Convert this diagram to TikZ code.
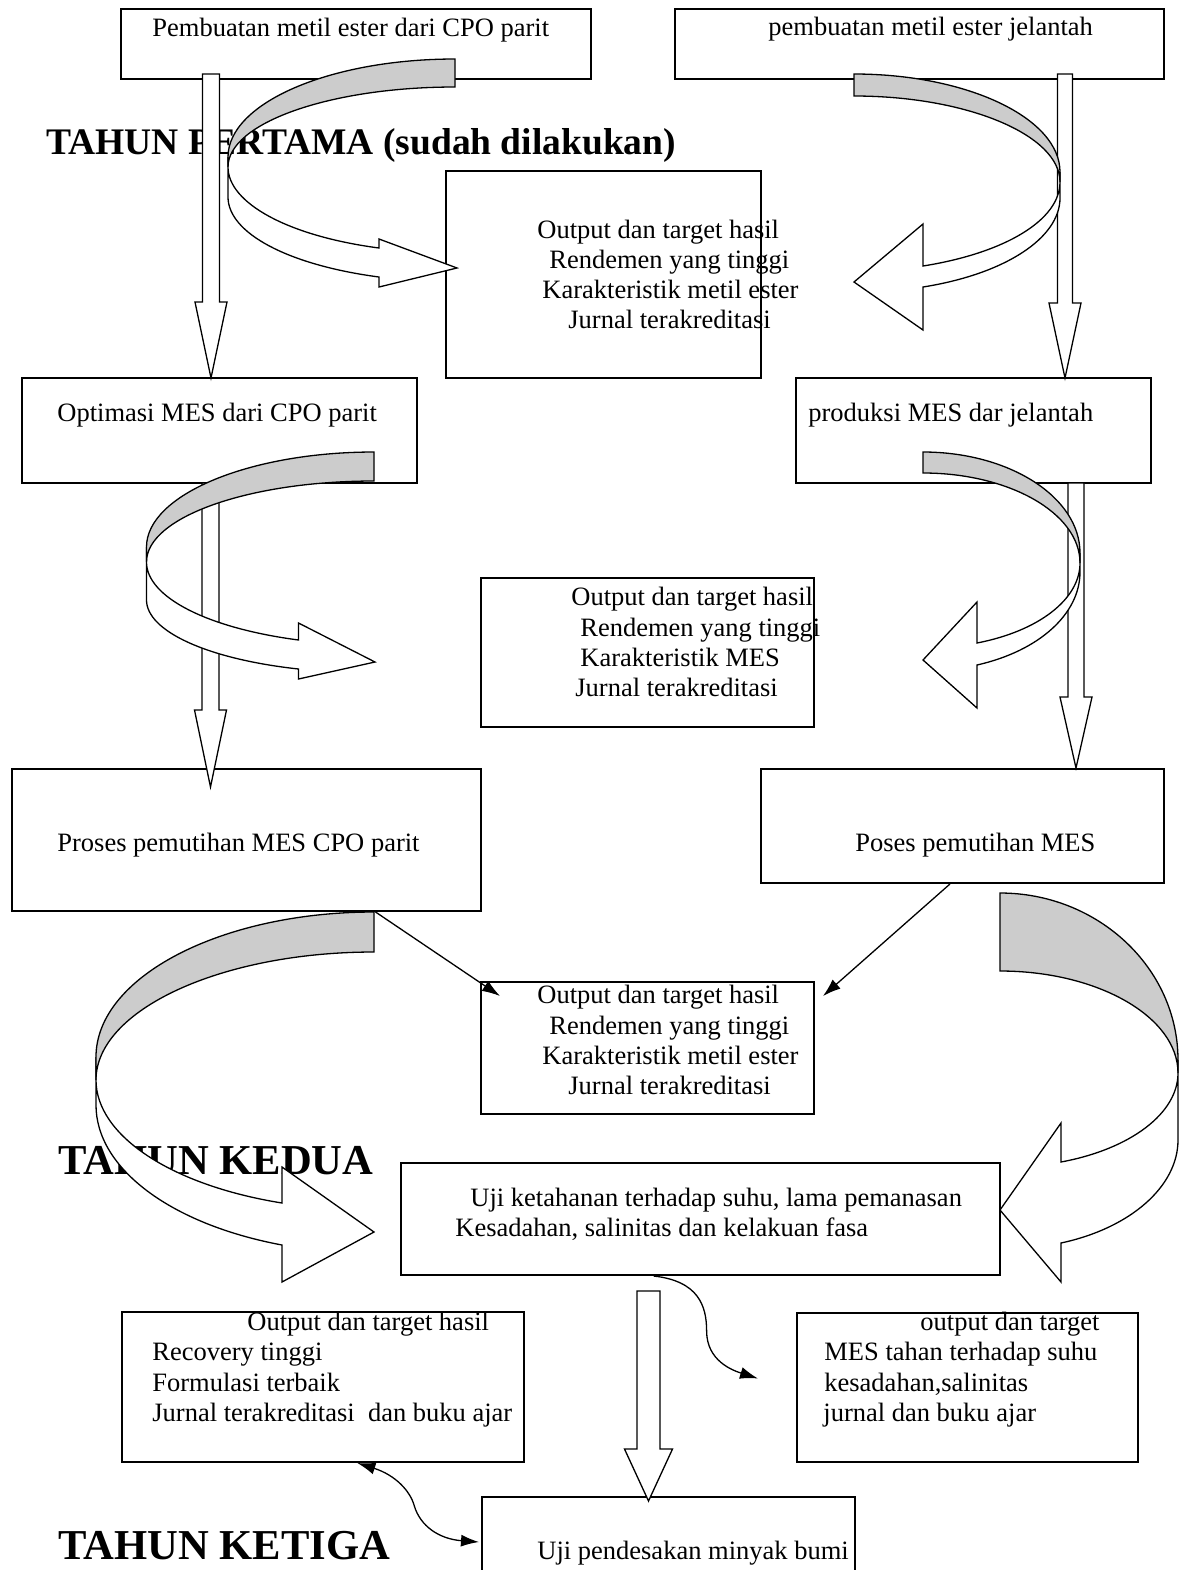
\documentclass[tikz,border=0pt]{standalone}
\usepackage{fontspec}
\setmainfont{Liberation Serif}
\usetikzlibrary{arrows.meta,positioning,calc,fit}

\tikzset{
  box/.style={draw,line width=1pt,inner sep=0pt},
  txt/.style={inner sep=0pt,anchor=base west,font=\fontsize{13.25}{15}\selectfont},
  head/.style={inner sep=0pt,anchor=base west,font=\bfseries\fontsize{21.3}{25}\selectfont},
  blockarrow/.style={draw,fill=white,line width=0.65pt,line join=miter},
  front/.style={draw,fill=white,line width=0.65pt},
  back/.style={draw,fill=gray!40,line width=0.65pt},
  link/.style={-{Latex[length=9pt,width=6pt]},line width=0.65pt},
  link2/.style={{Latex[length=9pt,width=6pt]}-{Latex[length=9pt,width=6pt]},line width=0.65pt}
}

\begin{document}
\begin{tikzpicture}[x=0.5pt,y=-0.5pt]
  \useasboundingbox (0,0) rectangle (1179,1570);

  % boxes
  \node[box,fit={(121,9) (591,79)}] (cpo) {};
  \node[box,fit={(675,9) (1164,79)}] (jel) {};
  \node[box,fit={(446,171) (761,378)}] (out1) {};
  \node[box,fit={(22,378) (417,483)}] (opt) {};
  \node[box,fit={(796,378) (1151,483)}] (prod) {};
  \node[box,fit={(481,578) (814,727)}] (out2) {};
  \node[box,fit={(12,769) (481,911)}] (proses1) {};
  \node[box,fit={(761,769) (1164,883)}] (proses2) {};
  \node[box,fit={(481,982) (814,1114)}] (out3) {};
  \node[box,fit={(401,1163) (1000,1275)}] (uji1) {};
  \node[box,fit={(122,1312) (524,1462)}] (hasil1) {};
  \node[box,fit={(797,1313) (1138,1462)}] (hasil2) {};
  \node[box,fit={(482,1497) (855,1600)}] (pendesakan) {};

  % texts
  \node[txt] (cpo-t) at (152,36) {Pembuatan metil ester dari CPO parit};
  \node[txt] (jel-t) at (768,35) {pembuatan metil ester jelantah};
  \foreach \x/\y/\t [count=\i] in {537/238/Output dan target hasil,549/268/Rendemen yang tinggi,542/298/Karakteristik metil ester,568/328/Jurnal terakreditasi}
    \node[txt] (out1-\i) at (\x,\y) {\t};
  \node[txt] (opt-t) at (57,421) {Optimasi MES dari CPO parit};
  \node[txt] (prod-t) at (808,421) {produksi MES dar jelantah};
  \foreach \x/\y/\t [count=\i] in {571/605/Output dan target hasil,580/636/Rendemen yang tinggi,580/666/Karakteristik MES,575/696/Jurnal terakreditasi}
    \node[txt] (out2-\i) at (\x,\y) {\t};
  \node[txt] (proses1-t) at (57,851) {Proses pemutihan MES CPO parit};
  \node[txt] (proses2-t) at (855,851) {Poses pemutihan MES};
  \foreach \x/\y/\t [count=\i] in {537/1003/Output dan target hasil,549/1034/Rendemen yang tinggi,542/1064/Karakteristik metil ester,568/1094/Jurnal terakreditasi}
    \node[txt] (out3-\i) at (\x,\y) {\t};
  \node[txt] (uji1-a) at (470,1206) {Uji ketahanan terhadap suhu, lama pemanasan};
  \node[txt] (uji1-b) at (455,1236) {Kesadahan, salinitas dan kelakuan fasa};
  \foreach \x/\y/\t [count=\i] in {247/1330/Output dan target hasil,152/1360/Recovery tinggi,152/1391/Formulasi terbaik,152/1421/Jurnal terakreditasi~~dan buku ajar}
    \node[txt] (hasil1-\i) at (\x,\y) {\t};
  \node[txt] (hasil2-1) at (920,1330) {output dan target};
  \node[txt] (hasil2-2) at (824,1360) {MES tahan terhadap suhu};
  \node[txt] (hasil2-3) at (824,1391) {kesadahan,salinitas};
  \node[txt] (hasil2-4) at (823,1421) {jurnal dan buku ajar};
  \node[txt] (pendesakan-t) at (537,1559) {Uji pendesakan minyak bumi};

  % year headings
  \node[head,font=\bfseries\fontsize{18.75}{22}\selectfont] (year1) at (46,154) {TAHUN PERTAMA (sudah dilakukan)};
  \node[head] (year2) at (58,1174) {TAHUN KEDUA};
  \node[head] (year3) at (58,1559) {TAHUN KETIGA};

  % straight block arrows
  \foreach \cx/\ty/\hy/\py/\sw/\hw in {211/74/302/378/8.5/16,1065/74/303/378/7.5/16,210.5/483/710/787/8.5/16,1076/483/697/768/8/16,648.5/1291/1449/1501/11.5/24}
    \draw[blockarrow] (\cx-\sw,\ty) -- (\cx+\sw,\ty) -- (\cx+\sw,\hy) -- (\cx+\hw,\hy)
      -- (\cx,\py) -- (\cx-\hw,\hy) -- (\cx-\sw,\hy) -- cycle;

  % curved ribbon arrows
  \draw[front] (228,157) -- (228,197) .. controls (228,233) and (288,265) .. (379,277) -- (379,287)
    -- (457,268) -- (379,239) -- (379,248) .. controls (288,236) and (228,203) .. (228,167) -- cycle;
  \draw[back] (455,59) .. controls (330,59) and (228,103) .. (228,157) -- (228,167)
    .. controls (228,123) and (330,87) .. (455,87) -- cycle;

  \draw[front] (1060,172) -- (1060,198) .. controls (1060,238) and (1005,274) .. (923,287) -- (923,330)
    -- (854,282) -- (923,224) -- (923,266) .. controls (1005,253) and (1060,220) .. (1060,182) -- cycle;
  \draw[back] (854,74) .. controls (967,74) and (1060,118) .. (1060,172) -- (1060,182)
    .. controls (1060,135) and (967,96) .. (854,96) -- cycle;

  \draw[front] (146.5,547) -- (146.5,600) .. controls (146.5,631) and (207,659) .. (298.5,669) -- (298.5,679)
    -- (375,662) -- (298.5,623) -- (298.5,640) .. controls (207,628) and (146.5,597) .. (146.5,562) -- cycle;
  \draw[back] (374,452) .. controls (249,452) and (146.5,495) .. (146.5,547) -- (146.5,562)
    .. controls (146.5,517) and (249,481) .. (374,481) -- cycle;

  \draw[front] (1080,553) -- (1080,572) .. controls (1080,614) and (1039,651) .. (977,665) -- (977,708)
    -- (923,660) -- (977,602) -- (977,643) .. controls (1039,631) and (1080,599) .. (1080,563) -- cycle;
  \draw[back] (923,452) .. controls (1009,452) and (1080,497) .. (1080,553) -- (1080,563)
    .. controls (1080,513) and (1009,473) .. (923,473) -- cycle;

  \draw[front] (96,1057) -- (96,1105) .. controls (96,1168) and (170,1224) .. (282,1245) -- (282,1282)
    -- (374,1232) -- (282,1167) -- (282,1203) .. controls (170,1185) and (96,1135) .. (96,1080) -- cycle;
  \draw[back] (374,912) .. controls (221,912) and (96,977) .. (96,1057) -- (96,1080)
    .. controls (96,1010) and (221,952) .. (374,952) -- cycle;

  \draw[front] (1178,1060) -- (1178,1140) .. controls (1178,1186) and (1131,1228) .. (1061,1243) -- (1061,1282)
    -- (1000,1210) -- (1061,1123) -- (1061,1162) .. controls (1131,1149) and (1178,1113) .. (1178,1073) -- cycle;
  \draw[back] (1000,893) .. controls (1098,893) and (1178,968) .. (1178,1060) -- (1178,1073)
    .. controls (1178,1017) and (1098,971) .. (1000,971) -- cycle;

  % thin arrows
  \draw[link] ($(proses1.south west)!0.774!(proses1.south east)$) -- ($(out3.north west)+(20,15)$);
  \draw[link] ($(proses2.south west)!0.469!(proses2.south east)$) -- ($(out3.north east)+(8,15)$);
  \coordinate (k1) at ($(uji1.south west)!0.422!(uji1.south east)$);
  \coordinate (k2) at ($(hasil2.west)+(-38,-9)$);
  \draw[link] (k1) .. controls +(45,5) and +(0,-25) .. ++(53,55) .. controls +(0,30) and +(-25,-8) .. (k2);
  \coordinate (k3) at ($(hasil1.south west)!0.585!(hasil1.south east)$);
  \coordinate (k4) at ($(pendesakan.north west)+(-2,46)$);
  \draw[link2] (k3) .. controls +(38,12) and +(-4,-15) .. ++(57,43) .. controls +(6,20) and +(-40,-3) .. (k4);
\end{tikzpicture}
\end{document}
